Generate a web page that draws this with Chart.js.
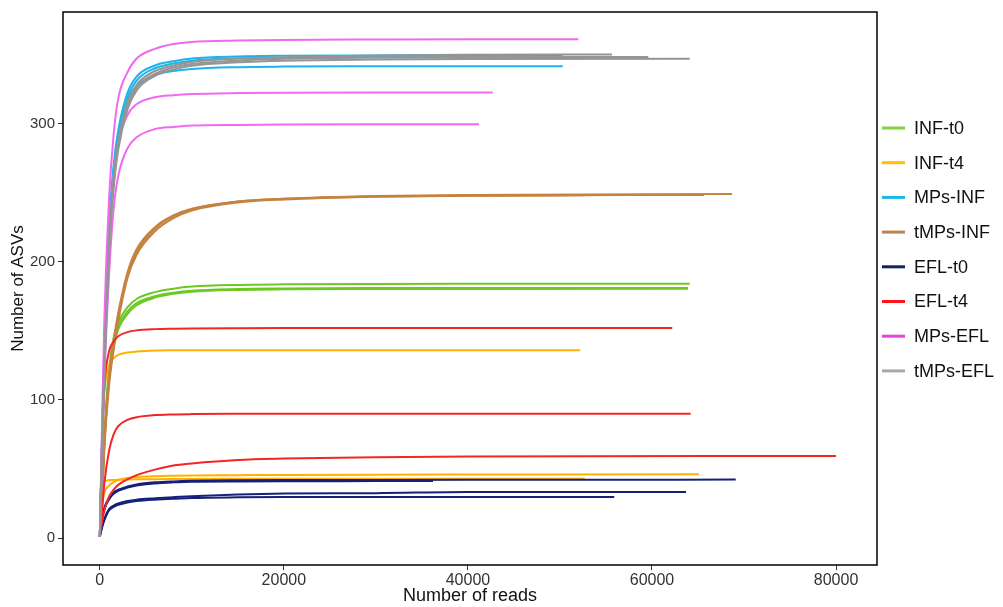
<!DOCTYPE html>
<html>
<head>
<meta charset="utf-8">
<title>Rarefaction curves</title>
<script src="https://cdn.jsdelivr.net/npm/chart.js@4.4.1/dist/chart.umd.min.js"></script>
<style>
    body { margin: 0; background: #fff; }
    .wrap { width: 1003px; height: 607px; position: relative; }
</style>
</head>
<body>
<div class="wrap"><canvas id="rare_chart"></canvas></div>
<script>
const readSteps = [0, 250, 500, 1000, 1500, 2000, 3000, 4000, 6000, 8000, 10000, 15000, 20000, 30000, 40000];

const groups = ["INF-t0", "INF-t4", "MPs-INF", "tMPs-INF", "EFL-t0", "EFL-t4", "MPs-EFL", "tMPs-EFL"];
const groupColors = ["#6CC922", "#FFB000", "#1CB4EA", "#C4833F", "#15207A", "#F42525", "#F06AF0", "#959595"];
const legendColors = ["#86CF45", "#FFC000", "#1CB4EA", "#BE8549", "#13235B", "#FF1515", "#E446E4", "#A8A8A8"];

const xTicks = [0, 20000, 40000, 60000, 80000];
const yTicks = [0, 100, 200, 300];

// ASVs at each readSteps value (per sample)
const infT0_a = [1, 35, 75, 122, 145, 156, 167, 173, 178, 180.5, 182, 183.2, 183.6, 183.9, 184];
const infT0_b = [1, 33, 72, 118, 141, 153, 164, 170, 175, 177.5, 179, 180.2, 180.6, 180.9, 181];
const infT0_c = [1, 30, 68, 114, 138, 151, 162, 168.5, 174, 176.8, 178.3, 179.6, 180, 180.2, 180.3];

const infT4_a = [1, 70, 105, 125, 130, 132.5, 134.3, 135, 135.7, 135.9, 136, 136, 136, 136, 136];
const infT4_b = [1, 25, 33, 38, 40.5, 42, 43.5, 44.2, 44.8, 45.1, 45.3, 45.5, 45.7, 45.9, 46];
const infT4_c = [1, 38, 41, 41.8, 42, 42.2, 42.4, 42.5, 42.6, 42.7, 42.8, 42.9, 43, 43, 43];

const mpsInf_a = [1, 75, 140, 225, 270, 295, 322, 334, 342, 345, 347, 348.5, 349, 349.3, 349.5];
const mpsInf_b = [1, 73, 137, 222, 266, 290, 316, 327, 335, 338, 339.5, 340.8, 341.2, 341.4, 341.5];
const mpsInf_c = [1, 70, 132, 215, 262, 288, 318, 331, 340, 343.5, 345.5, 347, 347.6, 347.9, 348];

const tmpsInf_a = [1, 30, 70, 115, 140, 160, 190, 207, 224, 233, 238, 243.5, 245.5, 247.5, 248.3];
const tmpsInf_b = [1, 28, 66, 110, 136, 157, 188, 205, 222, 231.5, 237, 242.8, 245, 247, 247.8];
const tmpsInf_c = [1, 32, 72, 118, 143, 163, 192, 209, 225, 233.5, 238.3, 243.5, 245.5, 247.2, 247.8];

const eflT0_a = [1, 15, 22, 29, 33, 35, 37.3, 38.8, 40.3, 41, 41.4, 41.8, 42, 42.1, 42.2];
const eflT0_b = [1, 8, 14, 21, 23.5, 25, 26.8, 27.8, 28.8, 29.6, 30.3, 31.5, 32.2, 32.5, 33.3];
const eflT0_c = [1, 8, 13, 20, 22.5, 24, 25.8, 26.8, 27.8, 28.4, 29, 29.5, 29.7, 29.8, 29.8];
const eflT0_d = [1, 14, 21, 28, 32, 34.2, 36.5, 38, 39.5, 40.3, 40.8, 41, 41.1, 41.2];

const eflT4_a = [1, 70, 110, 135, 142, 146, 149, 150.3, 151.2, 151.5, 151.7, 151.9, 152, 152, 152];
const eflT4_b = [1, 20, 40, 63, 75, 81, 85.5, 87.5, 89, 89.5, 89.7, 89.9, 90, 90, 90];
const eflT4_c = [1, 12, 20, 30, 35, 38.5, 42.5, 45.5, 49.5, 52.5, 54, 56.5, 57.5, 58.5, 59];

const mpsEfl_a = [1, 85, 160, 245, 292, 318, 337, 347, 354, 357.5, 359, 360, 360.5, 360.8, 361];
const mpsEfl_b = [1, 70, 135, 215, 262, 286, 306, 314, 319, 320.5, 321.3, 322, 322.3, 322.5, 322.5];
const mpsEfl_c = [1, 60, 115, 190, 238, 262, 282, 290, 296, 297.5, 298.5, 299, 299.3, 299.4, 299.4];

const tmpsEfl_a = [1, 68, 128, 215, 260, 287, 315, 328, 338, 342, 344.5, 347, 348, 349.3, 349.8];
const tmpsEfl_b = [1, 66, 125, 210, 256, 284, 312, 326, 336, 340.5, 343, 345.5, 346.8, 347.8, 348.1];
const tmpsEfl_c = [1, 64, 122, 206, 253, 281, 310, 324, 334.5, 339, 341.8, 344.3, 345.5, 346.3, 346.7];

// g = group index, last point = total reads of the sample
const curves = [
    {g: 0, asv: infT0_a, endReads: 64100, endAsv: 184},
    {g: 0, asv: infT0_b, endReads: 63900, endAsv: 181},
    {g: 0, asv: infT0_c, endReads: 63900, endAsv: 180.4},
    {g: 1, asv: infT4_a, endReads: 52200, endAsv: 136},
    {g: 1, asv: infT4_b, endReads: 65100, endAsv: 46.1},
    {g: 1, asv: infT4_c, endReads: 52700, endAsv: 43},
    {g: 2, asv: mpsInf_a, endReads: 50300, endAsv: 349.6},
    {g: 2, asv: mpsInf_b, endReads: 50300, endAsv: 341.5},
    {g: 2, asv: mpsInf_c, endReads: 50300, endAsv: 348.2},
    {g: 3, asv: tmpsInf_a, endReads: 68700, endAsv: 249},
    {g: 3, asv: tmpsInf_b, endReads: 65650, endAsv: 248.3},
    {g: 3, asv: tmpsInf_c, endReads: 52600, endAsv: 248},
    {g: 4, asv: eflT0_a, endReads: 69100, endAsv: 42.3},
    {g: 4, asv: eflT0_b, endReads: 63700, endAsv: 33.4},
    {g: 4, asv: eflT0_c, endReads: 55900, endAsv: 29.8},
    {g: 4, asv: eflT0_d, endReads: 36200, endAsv: 41.3},
    {g: 5, asv: eflT4_a, endReads: 62200, endAsv: 152},
    {g: 5, asv: eflT4_b, endReads: 64200, endAsv: 90},
    {g: 5, asv: eflT4_c, endReads: 80000, endAsv: 59.4},
    {g: 6, asv: mpsEfl_a, endReads: 52000, endAsv: 361},
    {g: 6, asv: mpsEfl_b, endReads: 42700, endAsv: 322.5},
    {g: 6, asv: mpsEfl_c, endReads: 41200, endAsv: 299.4},
    {g: 7, asv: tmpsEfl_a, endReads: 55650, endAsv: 350},
    {g: 7, asv: tmpsEfl_b, endReads: 59600, endAsv: 348.2},
    {g: 7, asv: tmpsEfl_c, endReads: 64100, endAsv: 346.8}
];

function curvePoints(c){
    let pts = [];
    for(let i = 0; i < c.asv.length; i++){
        if(readSteps[i] < c.endReads){
            pts.push({x: readSteps[i], y: c.asv[i]});
        }
    }
    pts.push({x: c.endReads, y: c.endAsv});
    return pts;
}

let datasets = curves.map((c, idx) => ({
    label: groups[c.g],
    data: curvePoints(c),
    borderColor: groupColors[c.g],
    borderWidth: 2,
    pointRadius: 0,
    fill: false,
    cubicInterpolationMode: 'monotone',
    order: curves.length - idx   // later samples on top, like ggplot
}));

const FONT = "'Liberation Sans', Arial, sans-serif";

// box round the panel + legend on the right
const framePlugin = {
    id: 'frame',
    afterDraw(chart){
        const {ctx, chartArea} = chart;
        ctx.save();
        ctx.strokeStyle = '#000';
        ctx.lineWidth = 1.5;
        ctx.strokeRect(chartArea.left, chartArea.top, chartArea.right - chartArea.left, chartArea.bottom - chartArea.top);

        ctx.font = `18px ${FONT}`;
        ctx.textBaseline = 'middle';
        ctx.textAlign = 'left';
        for(let i = 0; i < groups.length; i++){
            let y = 128 + i * 34.7;
            ctx.strokeStyle = legendColors[i];
            ctx.lineWidth = 3;
            ctx.beginPath();
            ctx.moveTo(882, y);
            ctx.lineTo(905, y);
            ctx.stroke();
            ctx.fillStyle = '#111';
            ctx.fillText(groups[i], 914, y + 1);
        }
        ctx.restore();
    }
};

let chart1 = new Chart(document.getElementById('rare_chart'), {
    type: 'line',
    data: {datasets: datasets},
    options: {
        responsive: true,
        maintainAspectRatio: false,
        animation: false,
        devicePixelRatio: 1,
        layout: {padding: {left: 0, right: 126, top: 10, bottom: 0}},
        plugins: {
            legend: {display: false},
            tooltip: {enabled: false}
        },
        scales: {
            x: {
                type: 'linear',
                min: -4000,
                max: 84450,
                afterBuildTicks: (scale) => { scale.ticks = xTicks.map(v => ({value: v})); },
                afterFit: (scale) => { scale.height = 42; },
                grid: {drawOnChartArea: false, tickLength: 5, tickColor: '#333'},
                border: {display: false},
                ticks: {padding: 1, color: '#333', font: {family: FONT, size: 16}, maxRotation: 0,
                        callback: (v) => String(v)},
                title: {display: true, text: 'Number of reads', color: '#111', font: {family: FONT, size: 18}, padding: {top: 0, bottom: 0}}
            },
            y: {
                min: -19.5,
                max: 380.7,
                afterBuildTicks: (scale) => { scale.ticks = yTicks.map(v => ({value: v})); },
                afterFit: (scale) => { scale.width = 63; },
                grid: {drawOnChartArea: false, tickLength: 5, tickColor: '#333'},
                border: {display: false},
                ticks: {padding: 3, color: '#333', font: {family: FONT, size: 15}},
                title: {display: true, text: 'Number of ASVs', color: '#111', font: {family: FONT, size: 17}, padding: {top: 8, bottom: 0}}
            }
        }
    },
    plugins: [framePlugin]
});
</script>
</body>
</html>
